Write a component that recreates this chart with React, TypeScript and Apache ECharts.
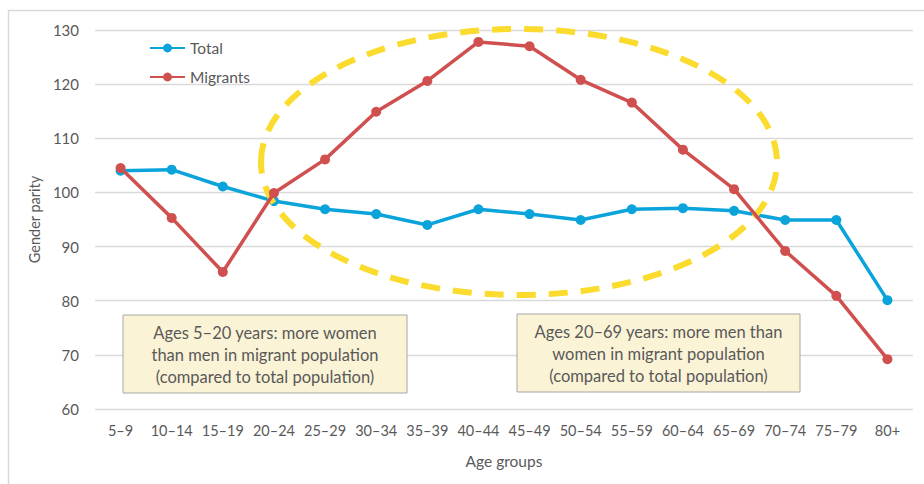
import React, { useEffect, useRef } from "react";
import * as echarts from "echarts";

const categories = ["5–9", "10–14", "15–19", "20–24", "25–29", "30–34", "35–39", "40–44", "45–49", "50–54", "55–59", "60–64", "65–69", "70–74", "75–79", "80+"];
const totalValues = [104, 104.2, 101.1, 98.4, 96.9, 96, 94, 96.9, 96, 94.9, 96.9, 97.1, 96.6, 94.9, 94.9, 80.1];
const migrantValues = [104.5, 95.3, 85.3, 99.9, 106.1, 114.9, 120.6, 127.8, 127, 120.8, 116.6, 107.9, 100.6, 89.2, 80.9, 69.2];
const yTicks = { min: 60, max: 130, interval: 10 };
const noteLeft = ["Ages 5–20 years: more women", "than men in migrant population", "(compared to total population)"];
const noteRight = ["Ages 20–69 years: more men than", "women in migrant population", "(compared to total population)"];

const FONT = "Lato, 'Open Sans', sans-serif";
const TXT = "#595959";

function noteBox(x: number, y: number, w: number, h: number, lines: string[]) {
  return {
    type: "group",
    x,
    y,
    z: 100,
    children: [
      { type: "rect", z: 100, shape: { x: 0, y: 0, width: w, height: h }, style: { fill: "#FBF3D6", stroke: "#A6A6A6", lineWidth: 1 } },
      {
        type: "text",
        z: 101,
        x: w / 2,
        y: h / 2 + 1,
        style: { text: lines.join("\n"), fill: TXT, font: `16.5px ${FONT}`, align: "center", verticalAlign: "middle", lineHeight: 22 },
      },
    ],
  };
}

export default function App() {
  const ref = useRef<HTMLDivElement>(null);
  useEffect(() => {
    document.body.style.margin = "0";
    const chart = echarts.init(ref.current!, null, { renderer: "svg" });
    chart.setOption({
      animation: false,
      textStyle: { fontFamily: FONT },
      grid: { left: 95, right: 11, top: 30, bottom: 75 },
      legend: {
        orient: "vertical",
        left: 144,
        top: 35,
        itemWidth: 35,
        itemHeight: 11,
        itemGap: 13,
        textStyle: { color: TXT, fontSize: 15.5, fontFamily: FONT },
        data: ["Total", "Migrants"],
      },
      xAxis: {
        type: "category",
        data: categories,
        boundaryGap: true,
        name: "Age groups",
        nameLocation: "middle",
        nameGap: 44,
        nameTextStyle: { color: TXT, fontSize: 15.5, fontFamily: FONT },
        axisLine: { show: false },
        axisTick: { show: false },
        axisLabel: { color: TXT, fontSize: 14.5, margin: 14, interval: 0, fontFamily: FONT },
      },
      yAxis: {
        type: "value",
        min: yTicks.min,
        max: yTicks.max,
        interval: yTicks.interval,
        name: "Gender parity",
        nameLocation: "middle",
        nameGap: 52,
        nameTextStyle: { color: TXT, fontSize: 14.5, fontFamily: FONT },
        axisLine: { show: false },
        axisTick: { show: false },
        axisLabel: { color: TXT, fontSize: 15, margin: 16, fontFamily: FONT },
        splitLine: { lineStyle: { color: "#D9D9D9", width: 1.3 } },
      },
      series: [
        {
          name: "Total",
          type: "line",
          data: totalValues,
          z: 1,
          color: "#0AA4DA",
          symbol: "circle",
          symbolSize: 10,
          lineStyle: { width: 3.5, color: "#0AA4DA" },
          itemStyle: { color: "#0AA4DA" },
        },
        {
          name: "Migrants",
          type: "line",
          data: migrantValues,
          z: 3,
          color: "#D0504F",
          symbol: "circle",
          symbolSize: 10,
          lineStyle: { width: 3.5, color: "#D0504F" },
          itemStyle: { color: "#D0504F" },
        },
      ],
      graphic: [
        {
          type: "rect",
          z: -10,
          shape: { x: 8.5, y: 10.5, width: 940, height: 500 },
          style: { fill: "none", stroke: "#D9D9D9", lineWidth: 1.5 },
          silent: true,
        },
        {
          type: "ellipse",
          z: 2,
          shape: { cx: 519, cy: 162, rx: 258, ry: 133 },
          style: { fill: "none", stroke: "#FADB2E", lineWidth: 6, lineDash: [19, 13] },
          silent: true,
        },
        noteBox(123, 315, 284, 78, noteLeft),
        noteBox(517, 314, 283, 78, noteRight),
      ],
    });
    return () => chart.dispose();
  }, []);
  return <div ref={ref} style={{ width: 924, height: 484 }} />;
}
